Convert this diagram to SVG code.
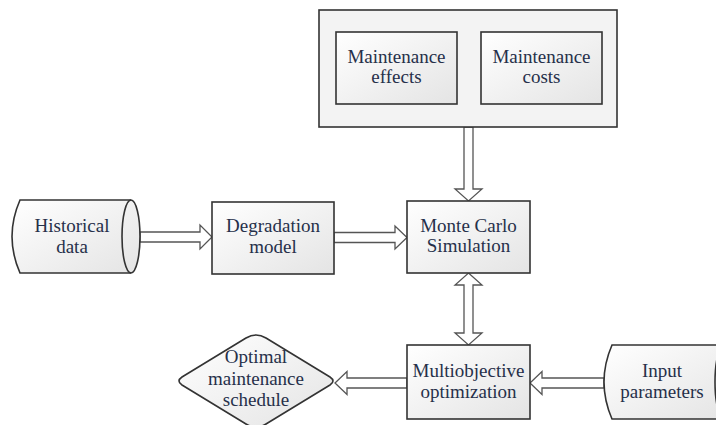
<svg xmlns="http://www.w3.org/2000/svg" width="716" height="425" viewBox="0 0 716 425">
<defs>
<linearGradient id="g" x1="0" y1="0" x2="1" y2="1">
<stop offset="0" stop-color="#ffffff"/>
<stop offset="1" stop-color="#e4e4e4"/>
</linearGradient>
<style>
.box{fill:url(#g);stroke:#333;stroke-width:1.6}
.outer{fill:#f3f3f3;stroke:#333;stroke-width:1.6}
.arr{fill:#fff;stroke:#555;stroke-width:1.3;stroke-linejoin:miter}
text{font-family:"Liberation Serif","Times New Roman",serif;font-size:19px;fill:#26304a;text-anchor:middle}
</style>
</defs>
<rect width="716" height="425" fill="#fff"/>
<g id="connectors">
<polygon class="arr" points="464,127 473,127 473,189 482,189 468.5,201 455,189 464,189"/>
<polygon class="arr" points="468.5,273 482,285 473,285 473,333 482,333 468.5,345 455,333 464,333 464,285 455,285"/>
<polygon class="arr" points="140,232 200,232 200,225 212,237 200,249 200,242 140,242"/>
<polygon class="arr" points="334,232.5 395,232.5 395,226 407,237.5 395,249 395,242.5 334,242.5"/>
<polygon class="arr" points="604,378 542,378 542,371.5 530,383 542,394.5 542,388 604,388"/>
<polygon class="arr" points="407,378 347,378 347,371.5 335,383 347,394.5 347,388 407,388"/>
</g>
<g id="maintenance-group">
<rect class="outer" x="319" y="10" width="298" height="117"/>
</g>
<g id="maintenance-effects">
<rect class="box" x="336" y="32" width="121" height="72"/>
<text x="396.5" y="63">Maintenance</text>
<text x="396.5" y="83">effects</text>
</g>
<g id="maintenance-costs">
<rect class="box" x="481" y="32" width="121" height="72"/>
<text x="541.5" y="63">Maintenance</text>
<text x="541.5" y="83">costs</text>
</g>
<g id="historical-data">
<path class="box" d="M20,200 L131,200 A9,36.5 0 0 1 131,273 L20,273 Q4,236.5 20,200 Z"/>
<path d="M131,200 A9,36.5 0 0 0 131,273" fill="none" stroke="#333" stroke-width="1.6"/>
<text x="72" y="232">Historical</text>
<text x="72" y="253">data</text>
</g>
<g id="degradation-model">
<rect class="box" x="212" y="202" width="122" height="72"/>
<text x="273" y="232">Degradation</text>
<text x="273" y="253">model</text>
</g>
<g id="monte-carlo">
<rect class="box" x="407" y="201" width="123" height="72"/>
<text x="468.5" y="232">Monte Carlo</text>
<text x="468.5" y="252">Simulation</text>
</g>
<g id="multiobjective">
<rect class="box" x="407" y="345" width="123" height="74"/>
<text x="468.5" y="377">Multiobjective</text>
<text x="468.5" y="398">optimization</text>
</g>
<g id="input-parameters">
<path class="box" d="M612,345 L724,345 A9,37 0 0 1 724,419 L612,419 Q596,382 612,345 Z"/>
<path d="M724,345 A9,37 0 0 0 724,419" fill="none" stroke="#333" stroke-width="1.6"/>
<text x="662" y="377">Input</text>
<text x="662" y="398">parameters</text>
</g>
<g id="optimal-schedule">
<path class="box" d="M246,338 Q256,332 266,338 L330,377 Q336,381 330,385 L266,424 Q256,430 246,424 L182,385 Q176,381 182,377 Z"/>
<text x="256" y="363">Optimal</text>
<text x="256" y="385">maintenance</text>
<text x="256" y="406">schedule</text>
</g>
</svg>
